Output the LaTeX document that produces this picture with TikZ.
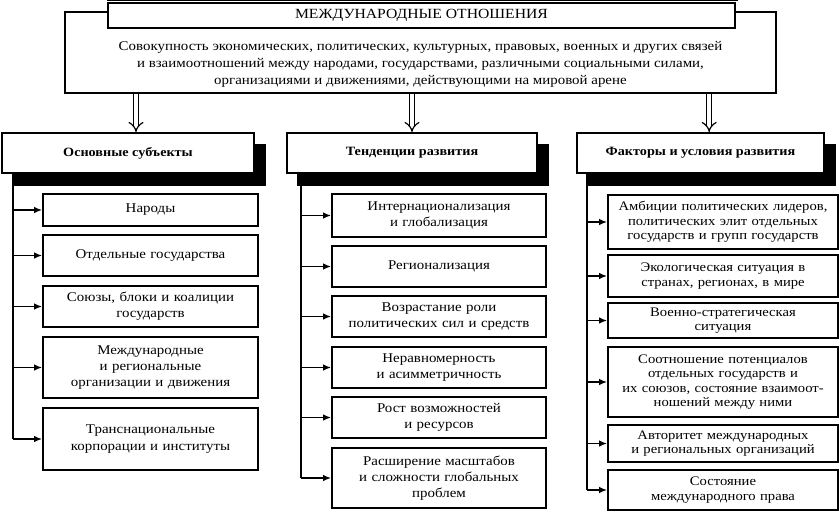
\documentclass[tikz,border=0pt]{standalone}
\usepackage{fontspec}
\setmainfont{Liberation Serif}[FakeStretch=1.12]
\usepackage{tikz}
\usetikzlibrary{arrows.meta}
\usetikzlibrary{backgrounds}

\tikzset{
  box/.style={draw, line width=1.5pt, fill=white, inner sep=2pt, align=center},
  head/.style={box, minimum height=30pt, font=\fontsize{9.5}{12}\selectfont\bfseries},
  item/.style={box, font=\fontsize{10}{12.2}\selectfont},
  fact/.style={box, minimum width=172.5pt, text width=168pt, font=\fontsize{9.8}{10.9}\selectfont},
  tip/.style={line width=1pt, -{Latex[length=6pt,width=5pt]}},
  dbl/.style={double, double distance=3pt, line width=0.9pt, -{Implies}},
}

\begin{document}
\begin{tikzpicture}[x=0.75pt,y=0.75pt,yscale=-1,xscale=1]
\useasboundingbox (0,0) rectangle (840,512);

% Outer frame and title
\node[box, minimum width=533.25pt, minimum height=60.75pt] (def) at (420.5,52.5) {};
\node[align=center, font=\fontsize{10}{12.75}\selectfont] (desc) at (420.5,64) {Совокупность экономических, политических, культурных, правовых, военных и других связей\\
и взаимоотношений между народами, государствами, различными социальными силами,\\
организациями и движениями, действующими на мировой арене};
\node[box, minimum width=470.25pt, minimum height=18.75pt, font=\fontsize{10.5}{12}\selectfont] (title) at (421.5,15.5) {МЕЖДУНАРОДНЫЕ ОТНОШЕНИЯ};
\fill ([yshift=-0.5pt]title.north west) rectangle ([xshift=1.5pt,yshift=-3pt]title.north east);

% Headers
\node[head, minimum width=189pt] (h1) at (128,153) {Основные субъекты};
\node[head, minimum width=187.5pt] (h2) at (412,153) {Тенденции развития};
\node[head, minimum width=185.25pt] (h3) at (700.5,153) {Факторы и условия развития};
\begin{pgfonlayer}{background}
\foreach \h in {h1,h2,h3}
  \fill ([xshift=8pt,yshift=9pt]\h.north west) rectangle ([xshift=8pt,yshift=9pt]\h.south east);
\end{pgfonlayer}

% Arrows from definition to headers
\draw[dbl] ([xshift=6pt]h1.north |- def.south) -- ([xshift=6pt]h1.north);
\draw[dbl] (h2.north |- def.south) -- (h2.north);
\draw[dbl] ([xshift=6.5pt]h3.north |- def.south) -- ([xshift=6.5pt]h3.north);

% Column 1
\node[item, minimum width=161.25pt, text width=155pt, minimum height=24pt] (a1) at (150.5,210) {Народы};
\node[item, minimum width=161.25pt, text width=155pt, minimum height=30.75pt] (a2) at (150.5,255.5) {Отдельные государства};
\node[item, minimum width=161.25pt, text width=155pt, minimum height=30.75pt] (a3) at (150.5,306.5) {Союзы, блоки и коалиции\\государств};
\node[item, minimum width=161.25pt, text width=155pt, minimum height=45.75pt] (a4) at (150.5,367.5) {Международные\\и региональные\\организации и движения};
\node[item, minimum width=161.25pt, text width=155pt, minimum height=46.5pt] (a5) at (150.5,439) {Транснациональные\\корпорации и институты};
\coordinate (r1) at (13,173);
\draw[line width=1pt] (r1) -- (r1 |- a5.west);
\foreach \n in {a1,a2,a3,a4,a5}
  \draw[tip] (r1 |- \n.west) -- (\n.west);

% Column 2
\node[item, minimum width=160.5pt, text width=154pt, minimum height=32.25pt] (b1) at (439,215.5) {Интернационализация\\и глобализация};
\node[item, minimum width=160.5pt, text width=154pt, minimum height=30.75pt] (b2) at (439,266.5) {Регионализация};
\node[item, minimum width=160.5pt, text width=154pt, minimum height=30.75pt] (b3) at (439,316.5) {Возрастание роли\\политических сил и средств};
\node[item, minimum width=160.5pt, text width=154pt, minimum height=30.75pt] (b4) at (439,367.5) {Неравномерность\\и асимметричность};
\node[item, minimum width=160.5pt, text width=154pt, minimum height=30.75pt] (b5) at (439,417.5) {Рост возможностей\\и ресурсов};
\node[item, minimum width=160.5pt, text width=154pt, minimum height=45pt] (b6) at (439,478) {Расширение масштабов\\и сложности глобальных\\проблем};
\coordinate (r2) at (301,173);
\draw[line width=1pt] (r2) -- (r2 |- b6.west);
\foreach \n in {b1,b2,b3,b4,b5,b6}
  \draw[tip] (r2 |- \n.west) -- (\n.west);

% Column 3
\node[fact, minimum height=40.5pt] (c1) at (723,222) {Амбиции политических лидеров,\\политических элит отдельных\\государств и групп государств};
\node[fact, minimum height=31.5pt] (c2) at (723,276) {Экологическая ситуация в\\странах, регионах, в мире};
\node[fact, minimum height=26.25pt] (c3) at (723,320.5) {Военно-стратегическая\\ситуация};
\node[fact, minimum height=52.5pt] (c4) at (723,382) {Соотношение потенциалов\\отдельных государств и\\их союзов, состояние взаимоот-\\ношений между ними};
\node[fact, minimum height=27.75pt] (c5) at (723,443.5) {Авторитет международных\\и региональных организаций};
\node[fact, minimum height=30pt] (c6) at (723,490) {Состояние\\международного права};
\coordinate (r3) at (587,173);
\draw[line width=1pt] (r3) -- (r3 |- c6.west);
\foreach \n in {c1,c2,c3,c4,c5,c6}
  \draw[tip] (r3 |- \n.west) -- (\n.west);

\end{tikzpicture}
\end{document}
